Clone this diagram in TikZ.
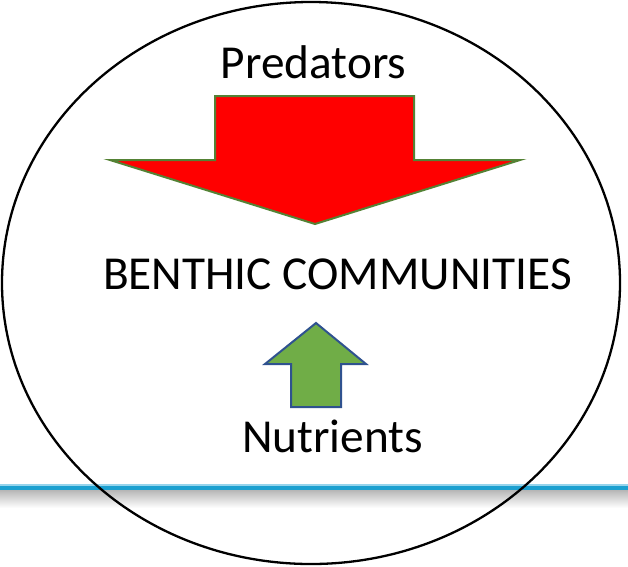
\documentclass[tikz,border=0pt]{standalone}
\usepackage{fontspec}
\setmainfont{Carlito}
\usepackage{tikz}
\definecolor{linkblue}{RGB}{28,160,208}
\definecolor{linkpale}{RGB}{150,212,236}
\definecolor{predfill}{RGB}{255,0,0}
\definecolor{predrim}{RGB}{84,130,53}
\definecolor{nutrfill}{RGB}{112,173,71}
\definecolor{nutrrim}{RGB}{47,82,143}
\tikzset{
  label text/.style={font=\fontsize{47.3}{52}\selectfont, inner sep=0pt},
  predarrow/.style={fill=predfill, draw=predrim, line width=2pt, line join=miter},
  nutrarrow/.style={fill=nutrfill, draw=nutrrim, line width=2pt, line join=miter}
}
\begin{document}
\begin{tikzpicture}[x=1pt,y=-1pt]
    % Fix the size of the page
    \useasboundingbox (0,0) rectangle (628,566);

    % Shadow and blue line
    \shade[top color=black!30, bottom color=white] (0,489) rectangle (628,508);
    \fill[linkpale] (0,484) rectangle (628,486);
    \fill[linkblue] (0,486) rectangle (628,490);

    % The community
    \draw[line width=2.3pt] (311,283) ellipse [x radius=309, y radius=281];

    % Predators pressing down
    \draw[predarrow] (215,96) -- (414,96) -- (414,160) -- (520,160)
      -- (315,224) -- (110,160) -- (215,160) -- cycle;

    % Nutrients pushing up
    \draw[nutrarrow] (291,407) -- (291,364) -- (265,364) -- (316,323)
      -- (366,364) -- (341,364) -- (341,407) -- cycle;

    % Labels
    \node[label text, anchor=base] (pred) at (313.5,78) {Predators};
    \node[label text, anchor=base] (bent) at (337.5,289) {BENTHIC COMMUNITIES};
    \node[label text, anchor=base] (nutr) at (332.5,452) {Nutrients};
\end{tikzpicture}
\end{document}
